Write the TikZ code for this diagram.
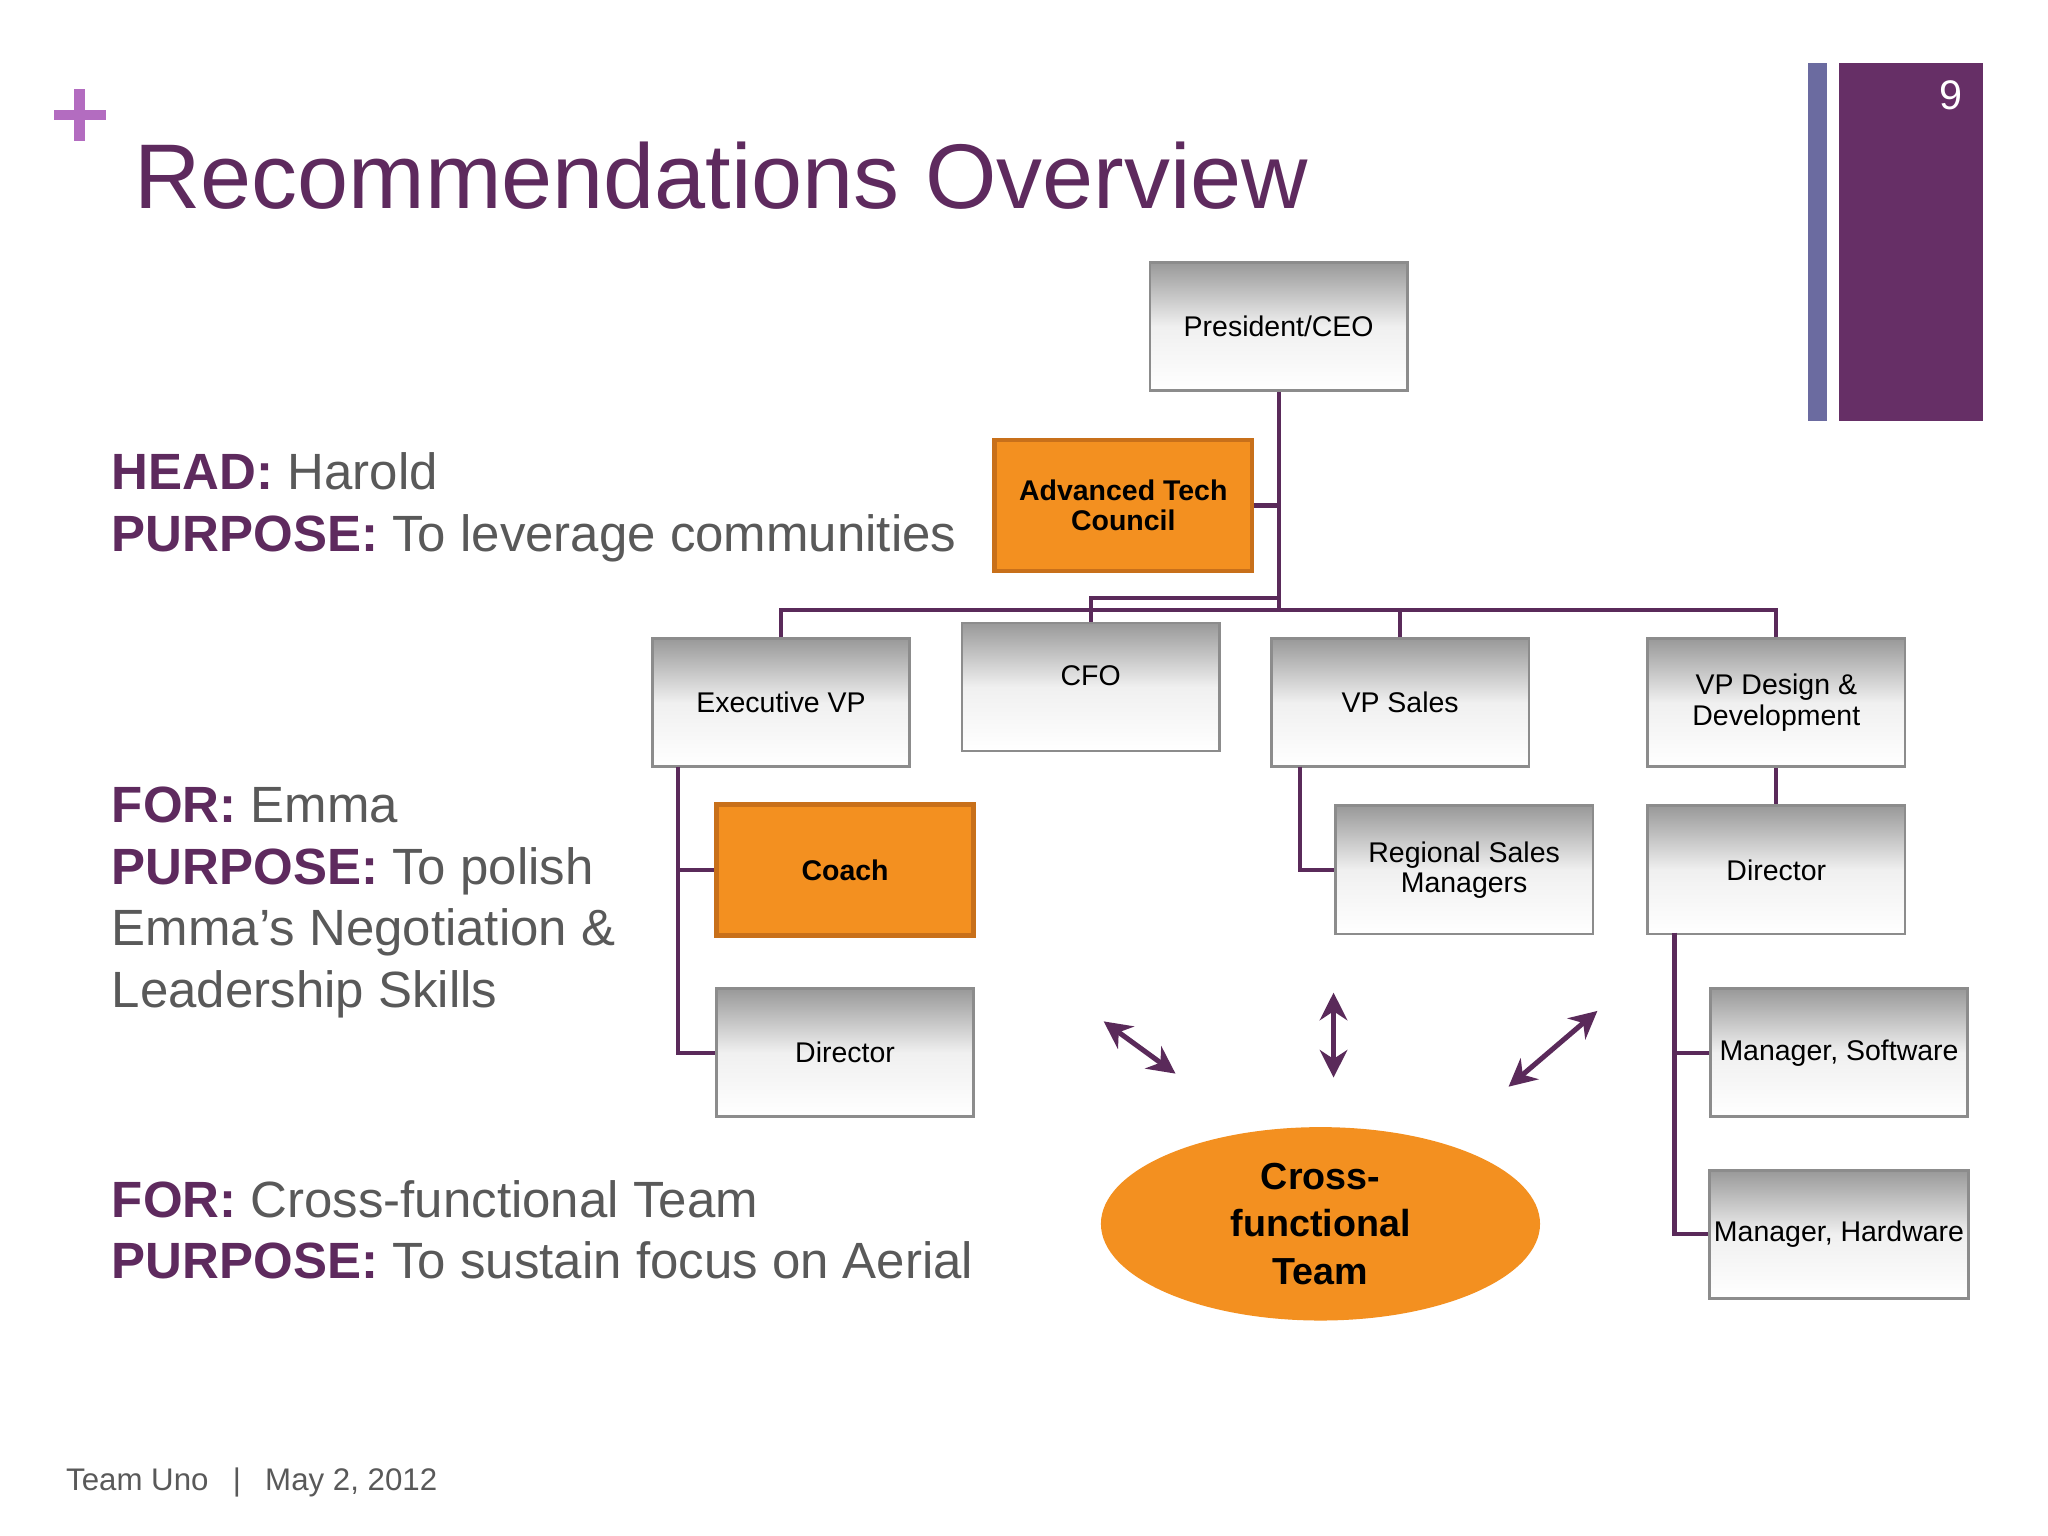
\documentclass[tikz,border=0pt]{standalone}
\usepackage{fontspec}
\setmainfont{Liberation Sans}
\usetikzlibrary{shapes.geometric,arrows.meta}
\definecolor{ttl}{HTML}{5E2A5E}
\definecolor{pl}{HTML}{B36CC0}
\definecolor{bar1}{HTML}{6B6BA0}
\definecolor{bar2}{HTML}{662F66}
\definecolor{lnc}{HTML}{5A2A5A}
\definecolor{org}{HTML}{F39020}
\definecolor{orgb}{HTML}{C8701A}
\definecolor{txg}{HTML}{595959}
\tikzset{
 gbox/.style={draw=black!45,line width=0.6pt,top color=black!40,bottom color=white,middle color=black!6,
   minimum width=1.97cm,minimum height=0.98cm,align=center,font=\fontsize{6.2}{6.6}\selectfont,inner sep=1pt},
 obox/.style={draw=orgb,line width=1pt,fill=org,minimum width=1.97cm,minimum height=1.0cm,align=center,
   font=\bfseries\fontsize{6.2}{6.6}\selectfont},
 conn/.style={draw=lnc,line width=0.9pt},
 dar/.style={draw=lnc,line width=1.1pt,{Stealth[length=6pt,width=6pt]}-{Stealth[length=6pt,width=6pt]}},
 lt/.style={anchor=base west,text=txg,font=\fontsize{11.1}{13}\selectfont,inner sep=0pt},
}
\newcommand{\lb}[1]{\textcolor{ttl}{\textbf{#1}}}
\begin{document}
\begin{tikzpicture}[x=0.01cm,y=-0.01cm]
\useasboundingbox (0,0) rectangle (1568,1176);
\fill[white] (0,0) rectangle (1568,1176);
% plus
\fill[pl] (41,84) rectangle (81,92);
\fill[pl] (57,68) rectangle (65,108);
\node[anchor=base west,text=ttl,font=\fontsize{20}{22}\selectfont,inner sep=0pt] (title) at (102,160) {Recommendations Overview};
\fill[bar1] (1384,48) rectangle (1399,322);
\fill[bar2] (1408,48) rectangle (1518,322);
\node[text=white,font=\fontsize{9}{10}\selectfont] (pg) at (1494,73) {9};
% boxes
\node[gbox] (ceo) at (979,250) {President/CEO};
\node[obox] (atc) at (860,387) {Advanced Tech\\Council};
\node[gbox] (evp) at (598,538) {Executive VP};
\node[gbox,text depth=5pt] (cfo) at (835,526) {CFO};
\node[gbox] (vps) at (1072,538) {VP Sales};
\node[gbox] (vpd) at (1360,538) {VP Design \&\\Development};
\node[obox] (coach) at (647,666) {Coach};
\node[gbox] (dl) at (647,806) {Director};
\node[gbox] (rsm) at (1121,666) {Regional Sales\\Managers};
\node[gbox] (dr) at (1360,666) {Director};
\node[gbox] (ms) at (1408,806) {Manager, Software};
\node[gbox] (mh) at (1408,945) {Manager, Hardware};
\node[ellipse,fill=org,minimum width=3.36cm,minimum height=1.48cm,inner sep=0pt,align=center,
  font=\bfseries\fontsize{8.2}{10.3}\selectfont] (cft) at (1011,937) {Cross-\\functional\\Team};
% connectors
\coordinate (j1) at (979,467);
\draw[conn] (ceo.south) -- (j1);
\draw[conn] (atc.east) -- (979,387);
\draw[conn] (evp.north) |- (vpd.north |- j1) -- (vpd.north);
\draw[conn] (vps.north) -- (vps.north |- j1);
\draw[conn] (cfo.north) -- (835,458) -- (979,458);
\draw[conn] (519,587) |- (dl.west);
\draw[conn] (519,666) -- (coach.west);
\draw[conn] (995,587) |- (rsm.west);
\draw[conn] (vpd.south) -- (dr.north);
\draw[conn] (1282,714) |- (mh.west);
\draw[conn] (1282,806) -- (ms.west);
% arrows
\coordinate (a1) at (845,782); \coordinate (a2) at (900,822);
\coordinate (b1) at (1021,760); \coordinate (b2) at (1021,825);
\coordinate (c1) at (1223,774); \coordinate (c2) at (1155,832);
\draw[dar] (a1) -- (a2);
\draw[dar] (b1) -- (b2);
\draw[dar] (c1) -- (c2);
% left text
\node[lt] (t1) at (85,375) {\lb{HEAD:} Harold};
\node[lt] (t2) at (85,422) {\lb{PURPOSE:} To leverage communities};
\node[lt] (t3) at (85,630) {\lb{FOR:} Emma};
\node[lt] (t4) at (85,677) {\lb{PURPOSE:} To polish};
\node[lt] (t5) at (85,724) {Emma’s Negotiation \&};
\node[lt] (t6) at (85,771) {Leadership Skills};
\node[lt] (t7) at (85,932) {\lb{FOR:} Cross-functional Team};
\node[lt] (t8) at (85,979) {\lb{PURPOSE:} To sustain focus on Aerial};
\node[anchor=base west,text=txg,font=\fontsize{6.8}{8}\selectfont,inner sep=0pt] (ft) at (50,1141) {Team Uno \enspace | \enspace May 2, 2012};
\end{tikzpicture}
\end{document}
